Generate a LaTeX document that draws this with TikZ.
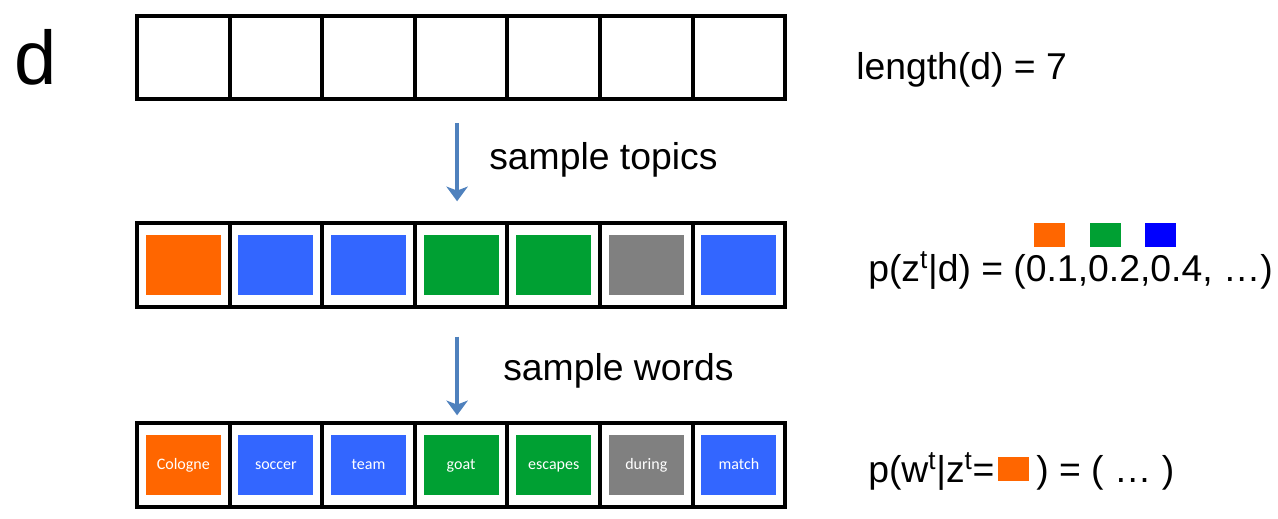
\documentclass[tikz,border=0pt]{standalone}
\usepackage{fontspec}
\setmainfont{Liberation Sans}
\newfontfamily\wordfont{Carlito}
\usetikzlibrary{arrows.meta}
\definecolor{topicorange}{HTML}{FF6600}
\definecolor{topicblue}{HTML}{3366FF}
\definecolor{topicgreen}{HTML}{00A033}
\definecolor{topicgray}{HTML}{808080}
\definecolor{legendblue}{HTML}{0000FF}
\definecolor{arrowblue}{HTML}{4F81BD}
\begin{document}
\begin{tikzpicture}[x=0.75pt, y=-0.75pt,
  cell/.style={draw, line width=3pt, fill=white, minimum width=69.45pt, minimum height=62.6pt, inner sep=0pt},
  tile/.style={fill=#1, minimum width=56.25pt, minimum height=45pt, inner sep=0pt, text=white, text height=1.6ex, text depth=0.4ex, font=\wordfont\fontsize{12}{14}\selectfont},
  swatch/.style={fill=#1, minimum width=23.25pt, minimum height=18pt, inner sep=0pt},
  sampler/.style={-{Stealth[length=11pt,width=16pt,inset=3pt]}, line width=2.5pt, draw=arrowblue},
  txt/.style={anchor=base west, inner sep=0pt, font=\fontsize{28}{32}\selectfont}]
\useasboundingbox (0,0) rectangle (1278,518);

% document d
\node (doc) at (14,84) [anchor=base west, inner sep=0pt, font=\fontsize{57}{60}\selectfont] {d};
\foreach \i in {1,...,7}
  \node (t\i) at ({137+92.6*(\i-0.5)},57.5) [cell] {};
\node (len) at (856,79) [txt] {length(d) = 7};

% topics
\foreach \i/\c in {1/topicorange,2/topicblue,3/topicblue,4/topicgreen,5/topicgreen,6/topicgray,7/topicblue} {
  \node (m\i) at ({137+92.6*(\i-0.5)},265) [cell] {};
  \node (mt\i) at (m\i) [tile=\c] {};
}
\node (topics) at (489,169) [txt] {sample topics};
\node (pz) at (868,281) [txt] {p(z\textsuperscript{t}|d) = (0.1,0.2,0.4, …)};
\node (so) at (1049.5,235) [swatch=topicorange] {};
\node (sg) at (1105.5,235) [swatch=topicgreen] {};
\node (sb) at (1160.5,235) [swatch=legendblue] {};

% words
\foreach \i/\c/\w in {1/topicorange/Cologne,2/topicblue/soccer,3/topicblue/team,4/topicgreen/goat,5/topicgreen/escapes,6/topicgray/during,7/topicblue/match} {
  \node (b\i) at ({137+92.6*(\i-0.5)},465) [cell] {};
  \node (bt\i) at (b\i) [tile=\c] {\w};
}
\node (words) at (503,380) [txt] {sample words};
\node (pw) at (868,482) [txt] {p(w\textsuperscript{t}|z\textsuperscript{t}=};
\node (sw) at (1013.5,468.5) [swatch=topicorange] {};
\node (rest) at (1036,482) [txt] {) = ( … )};

\draw[sampler] ([xshift=-3pt,yshift=-16.5pt]t4.south) -- ([xshift=-3pt,yshift=15pt]m4.north);
\draw[sampler] ([xshift=-3pt,yshift=-21pt]m4.south) -- ([xshift=-3pt,yshift=4.5pt]b4.north);
\end{tikzpicture}
\end{document}
